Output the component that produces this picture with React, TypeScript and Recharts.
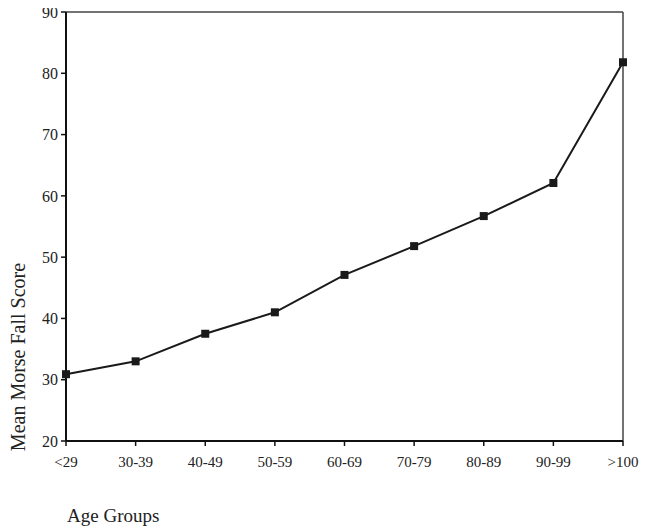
import React from "react";
import { LineChart, Line, XAxis, YAxis, ReferenceLine } from "recharts";

const ageGroups = ["<29", "30-39", "40-49", "50-59", "60-69", "70-79", "80-89", "90-99", ">100"];
const meanScores = [30.9, 33.0, 37.5, 41.0, 47.1, 51.8, 56.7, 62.1, 81.8];
const yTicks = [20, 30, 40, 50, 60, 70, 80, 90];

const data = ageGroups.map((g, i) => ({ group: g, score: meanScores[i] }));

const FONT = "'Liberation Serif', 'Times New Roman', serif";

const SquareDot = (props: any) => {
  const { cx, cy } = props;
  if (cx == null || cy == null) return null;
  return <rect x={cx - 4} y={cy - 4} width={8} height={8} fill="#1a1a1a" />;
};

export default function App() {
  return (
    <div style={{ marginTop: -8, width: 632, height: 530 }}>
      <LineChart
        width={632}
        height={530}
        data={data}
        margin={{ top: 12, right: 17, bottom: 0, left: 0 }}
        style={{ fontFamily: FONT }}
      >
        <ReferenceLine y={90} stroke="#444" strokeWidth={1.5} ifOverflow="visible" />
        <ReferenceLine x=">100" stroke="#444" strokeWidth={1.5} ifOverflow="visible" />
        <XAxis
          dataKey="group"
          height={89}
          axisLine={{ stroke: "#111", strokeWidth: 2 }}
          tickLine={{ stroke: "#111", strokeWidth: 1.5 }}
          tickSize={5}
          tickMargin={10}
          tick={{ fill: "#222", fontSize: 15, fontFamily: FONT }}
          interval={0}
          label={{
            content: (p: any) => {
              const vb = p.viewBox || {};
              return (
                <text
                  x={vb.x + 1}
                  y={vb.y + vb.height - 8}
                  fill="#222"
                  fontSize={19}
                  fontFamily={FONT}
                  textAnchor="start"
                >
                  Age Groups
                </text>
              );
            },
          }}
        />
        <YAxis
          domain={[20, 90]}
          ticks={yTicks}
          width={58}
          axisLine={{ stroke: "#111", strokeWidth: 2 }}
          tickLine={{ stroke: "#111", strokeWidth: 1.5 }}
          tickSize={5}
          tickMargin={3}
          tick={{ fill: "#222", fontSize: 16, fontFamily: FONT }}
          interval={0}
          label={{
            content: (p: any) => {
              const vb = p.viewBox || {};
              const x = vb.x + 17;
              const y = vb.y + 345;
              return (
                <text
                  x={x}
                  y={y}
                  transform={`rotate(-90, ${x}, ${y})`}
                  fill="#222"
                  fontSize={20}
                  fontFamily={FONT}
                  textAnchor="middle"
                >
                  Mean Morse Fall Score
                </text>
              );
            },
          }}
        />
        <Line
          type="linear"
          dataKey="score"
          stroke="#1a1a1a"
          strokeWidth={2}
          dot={<SquareDot />}
          activeDot={false}
          isAnimationActive={false}
        />
      </LineChart>
    </div>
  );
}
